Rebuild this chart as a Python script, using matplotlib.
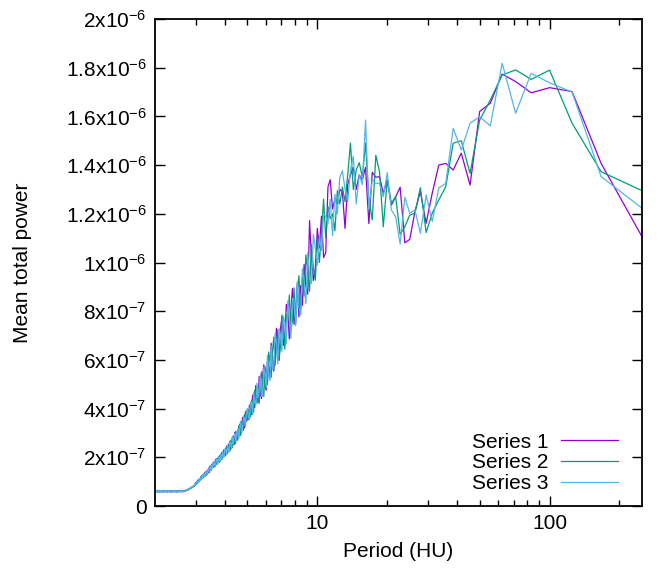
import numpy as np
import matplotlib
matplotlib.use('Agg')
import matplotlib.pyplot as plt
from matplotlib.ticker import FixedLocator, NullFormatter

plt.rcParams['font.family'] = ['Liberation Sans', 'DejaVu Sans']
plt.rcParams['mathtext.fontset'] = 'custom'
plt.rcParams['mathtext.rm'] = 'Liberation Sans'
plt.rcParams['mathtext.default'] = 'regular'

# ---------------------------------------------------------------
# Data: mean total power (units of 1e-7), ordered from the shortest
# period (k = 250) to the longest (k = 2); period = 500 / k
# ---------------------------------------------------------------
series_names = ['Series 1', 'Series 2', 'Series 3']
colors = ['#9400d3', '#009e73', '#56b4e9']

s1 = [
    # k 250..170
    0.62, 0.58, 0.61, 0.64, 0.59, 0.60, 0.63, 0.57, 0.61, 0.60,
    0.64, 0.58, 0.62, 0.59, 0.61, 0.63, 0.58, 0.60, 0.62, 0.57,
    0.61, 0.64, 0.59, 0.60, 0.62, 0.58, 0.61, 0.60, 0.63, 0.57,
    0.60, 0.62, 0.59, 0.61, 0.58, 0.63, 0.60, 0.59, 0.62, 0.57,
    0.61, 0.60, 0.64, 0.58, 0.60, 0.62, 0.59, 0.61, 0.57, 0.60,
    0.63, 0.59, 0.60, 0.62, 0.58, 0.61, 0.59, 0.62, 0.60, 0.58,
    0.61, 0.63, 0.59, 0.62, 0.60, 0.64, 0.62, 0.66, 0.64, 0.68,
    0.66, 0.70, 0.69, 0.73, 0.72, 0.76, 0.74, 0.79, 0.77, 0.82,
    0.80,
    # k 169..100
    0.87, 0.85, 0.96, 0.91, 0.92, 1.05, 1.03, 0.99, 1.11, 1.12,
    1.07, 1.20, 1.26, 1.16, 1.16, 1.31, 1.26, 1.39, 1.28, 1.27,
    1.46, 1.45, 1.36, 1.58, 1.48, 1.45, 1.70, 1.66, 1.57, 1.80,
    1.61, 1.78, 1.92, 1.73, 1.72, 1.97, 1.94, 1.80, 2.09, 1.95,
    2.19, 1.96, 2.08, 2.32, 2.25, 2.09, 2.46, 2.24, 2.22, 2.52,
    2.66, 2.33, 2.62, 2.84, 2.53, 2.53, 3.03, 2.94, 2.68, 3.13,
    2.83, 3.36, 3.08, 3.00, 3.63, 3.48, 3.20, 3.87, 3.48, 3.95,
    # k 99..50
    3.55, 4.15, 4.05, 3.75, 4.55, 4.15, 4.05, 4.95, 4.74, 4.23,
    5.32, 4.62, 4.41, 5.30, 5.80, 4.93, 4.76, 5.89, 5.72, 5.25,
    6.68, 6.21, 5.54, 6.07, 7.30, 6.14, 5.98, 7.31, 7.75, 6.60,
    6.94, 8.28, 7.92, 6.86, 8.00, 8.93, 7.46, 8.00, 9.13, 7.76,
    9.05, 8.24, 9.92, 9.01, 8.70, 11.72, 10.14, 9.26, 9.78, 11.40,
    # k 49..28
    10.6, 11.9, 10.2, 10.4, 13.1, 13.4, 12.2, 12.6, 12.4, 13.0,
    12.9, 11.4, 13.2, 13.6, 13.9, 13.0, 13.6, 13.4, 13.9, 11.6,
    13.7, 13.5,
    # k 27..2
    13.53, 12.84, 13.39, 12.36, 12.70, 13.09, 10.81, 10.95, 12.09, 12.91,
    11.61, 12.85, 14.00, 14.07, 13.80, 14.49, 13.18, 16.20, 16.54, 17.74,
    17.43, 16.97, 17.18, 17.02, 14.07, 11.06,
]

s2 = [
    0.60, 0.63, 0.59, 0.61, 0.62, 0.58, 0.60, 0.64, 0.59, 0.61,
    0.58, 0.62, 0.60, 0.63, 0.57, 0.61, 0.62, 0.59, 0.60, 0.63,
    0.59, 0.61, 0.58, 0.62, 0.60, 0.63, 0.59, 0.61, 0.58, 0.62,
    0.63, 0.59, 0.61, 0.58, 0.62, 0.60, 0.57, 0.61, 0.63, 0.59,
    0.60, 0.62, 0.58, 0.61, 0.63, 0.59, 0.62, 0.58, 0.61, 0.60,
    0.58, 0.62, 0.61, 0.59, 0.63, 0.60, 0.62, 0.58, 0.61, 0.63,
    0.60, 0.59, 0.62, 0.61, 0.64, 0.62, 0.65, 0.64, 0.67, 0.66,
    0.69, 0.68, 0.71, 0.70, 0.74, 0.73, 0.77, 0.76, 0.80, 0.79,
    0.83,
    0.82, 0.92, 0.89, 0.98, 0.93, 0.94, 1.08, 1.02, 1.12, 1.06,
    1.20, 1.10, 1.15, 1.28, 1.17, 1.32, 1.31, 1.22, 1.42, 1.31,
    1.29, 1.50, 1.47, 1.38, 1.63, 1.50, 1.49, 1.73, 1.59, 1.78,
    1.75, 1.62, 1.88, 1.94, 1.74, 1.84, 2.04, 1.83, 2.02, 2.13,
    1.90, 2.18, 2.26, 2.06, 2.04, 2.38, 2.30, 2.16, 2.53, 2.34,
    2.26, 2.69, 2.69, 2.40, 2.88, 2.68, 2.55, 3.06, 2.98, 2.73,
    3.29, 2.98, 2.90, 3.47, 3.43, 3.10, 3.76, 3.45, 3.93, 3.52,
    3.95, 3.65, 3.65, 4.35, 4.25, 3.85, 4.75, 4.65, 4.24, 4.93,
    4.22, 5.22, 5.51, 4.80, 4.50, 5.73, 5.46, 4.99, 6.32, 5.95,
    5.28, 6.31, 6.94, 5.77, 6.50, 7.24, 6.08, 6.61, 7.85, 7.40,
    6.44, 7.88, 7.72, 8.66, 7.20, 7.63, 8.96, 7.50, 8.73, 9.46,
    7.95, 9.44, 8.62, 10.31, 9.60, 8.82, 10.74, 9.76, 9.28, 11.00,
    10.0, 11.2, 12.6, 11.0, 12.3, 11.8, 12.0, 11.3, 12.95, 12.4,
    13.1, 12.5, 13.6, 14.9, 13.0, 13.8, 14.1, 13.5, 14.9, 12.6,
    11.75, 14.4,
    13.73, 11.47, 13.39, 12.43, 12.70, 11.16, 11.47, 11.95, 12.02, 13.07,
    11.23, 12.03, 12.57, 13.11, 14.90, 15.00, 13.66, 15.85, 16.67, 17.70,
    17.91, 17.52, 17.90, 15.72, 13.73, 12.95,
]

s3 = [
    0.61, 0.59, 0.63, 0.60, 0.58, 0.62, 0.61, 0.59, 0.64, 0.60,
    0.62, 0.60, 0.58, 0.61, 0.64, 0.59, 0.61, 0.62, 0.58, 0.60,
    0.63, 0.60, 0.61, 0.58, 0.62, 0.61, 0.59, 0.63, 0.60, 0.61,
    0.58, 0.61, 0.63, 0.60, 0.59, 0.62, 0.61, 0.58, 0.60, 0.63,
    0.59, 0.61, 0.60, 0.63, 0.58, 0.61, 0.62, 0.60, 0.59, 0.62,
    0.60, 0.61, 0.58, 0.62, 0.60, 0.59, 0.63, 0.61, 0.60, 0.62,
    0.59, 0.62, 0.61, 0.63, 0.62, 0.65, 0.63, 0.66, 0.65, 0.69,
    0.67, 0.71, 0.70, 0.74, 0.72, 0.77, 0.75, 0.80, 0.78, 0.83,
    0.81,
    0.89, 0.89, 0.87, 0.96, 1.01, 0.96, 0.97, 1.09, 1.05, 1.14,
    1.08, 1.17, 1.25, 1.14, 1.27, 1.33, 1.21, 1.28, 1.41, 1.38,
    1.30, 1.49, 1.40, 1.57, 1.58, 1.45, 1.66, 1.55, 1.76, 1.64,
    1.83, 1.68, 1.66, 1.92, 1.91, 1.74, 2.02, 1.97, 1.83, 2.10,
    1.94, 2.24, 2.06, 2.01, 2.34, 2.30, 2.11, 2.47, 2.31, 2.22,
    2.64, 2.56, 2.37, 2.82, 2.56, 2.89, 2.97, 2.62, 3.04, 3.15,
    2.78, 3.20, 3.48, 3.03, 3.21, 3.68, 3.58, 3.25, 3.83, 4.00,
    3.65, 3.55, 4.25, 4.25, 3.75, 4.65, 4.25, 4.15, 5.04, 4.43,
    4.82, 5.32, 4.51, 4.50, 5.70, 5.43, 4.86, 6.19, 5.32, 5.15,
    6.58, 5.61, 5.64, 7.07, 6.70, 5.84, 7.28, 7.01, 6.35, 7.80,
    7.54, 6.68, 8.42, 7.76, 6.90, 8.53, 8.46, 7.40, 9.23, 8.16,
    7.85, 9.74, 9.22, 8.31, 10.40, 9.42, 9.14, 11.16, 10.58, 9.90,
    11.0, 10.5, 12.0, 11.9, 11.6, 12.6, 11.1, 12.8, 12.0, 13.5,
    13.77, 13.0, 12.5, 13.8, 14.37, 12.4, 13.6, 13.2, 15.85, 12.2,
    13.4, 13.25,
    13.25, 12.70, 13.69, 12.16, 11.88, 10.76, 12.68, 12.02, 12.16, 11.20,
    12.77, 11.68, 13.06, 13.25, 15.51, 14.62, 15.72, 15.99, 15.61, 18.18,
    16.13, 17.77, 17.38, 17.00, 13.53, 12.23,
]

y_ticks = [0, 2e-7, 4e-7, 6e-7, 8e-7, 1e-6, 1.2e-6, 1.4e-6, 1.6e-6, 1.8e-6, 2e-6]
y_tick_labels = ['0', '2x10$^{-7}$', '4x10$^{-7}$', '6x10$^{-7}$', '8x10$^{-7}$',
                 '1x10$^{-6}$', '1.2x10$^{-6}$', '1.4x10$^{-6}$', '1.6x10$^{-6}$',
                 '1.8x10$^{-6}$', '2x10$^{-6}$']

fig = plt.figure(figsize=(6.6, 5.74), dpi=100)
ax = fig.add_axes([155/660, 68/574, 487/660, 487/574])

for name, vals, c in zip(series_names, [s1, s2, s3], colors):
    k = np.arange(len(vals) + 1, 1, -1)
    period = 500.0 / k
    ax.plot(period, np.array(vals) * 1e-7, color=c, lw=0.9, label=name)

ax.set_xscale('log')
ax.set_xlim(2, 250)
ax.set_ylim(0, 2e-6)

ax.set_xticks([10, 100])
ax.set_xticklabels(['10', '100'])
ax.xaxis.set_minor_locator(FixedLocator([3, 4, 5, 6, 7, 8, 9, 20, 30, 40, 50, 60, 70, 80, 90, 200]))
ax.xaxis.set_minor_formatter(NullFormatter())
ax.set_yticks(y_ticks)
ax.set_yticklabels(y_tick_labels)

ax.tick_params(which='major', direction='in', length=7, width=1.0, top=True, right=True,
               labelsize=15, pad=6)
ax.tick_params(which='minor', direction='in', length=4, width=1.0, top=True, right=True)
for sp in ax.spines.values():
    sp.set_linewidth(1.3)

ax.set_xlabel('Period (HU)', fontsize=15)
ax.set_ylabel('Mean total power', fontsize=15)
ax.xaxis.set_label_coords(0.5, -0.074)
ax.yaxis.set_label_coords(-0.252, 0.5)

ax.legend(loc='lower right', bbox_to_anchor=(0.951, 0.027), frameon=False,
          markerfirst=False, fontsize=15, handlelength=2.74, labelspacing=0.08,
          borderpad=0, borderaxespad=0, handletextpad=0.62)

fig.savefig('out.png', dpi=100)
